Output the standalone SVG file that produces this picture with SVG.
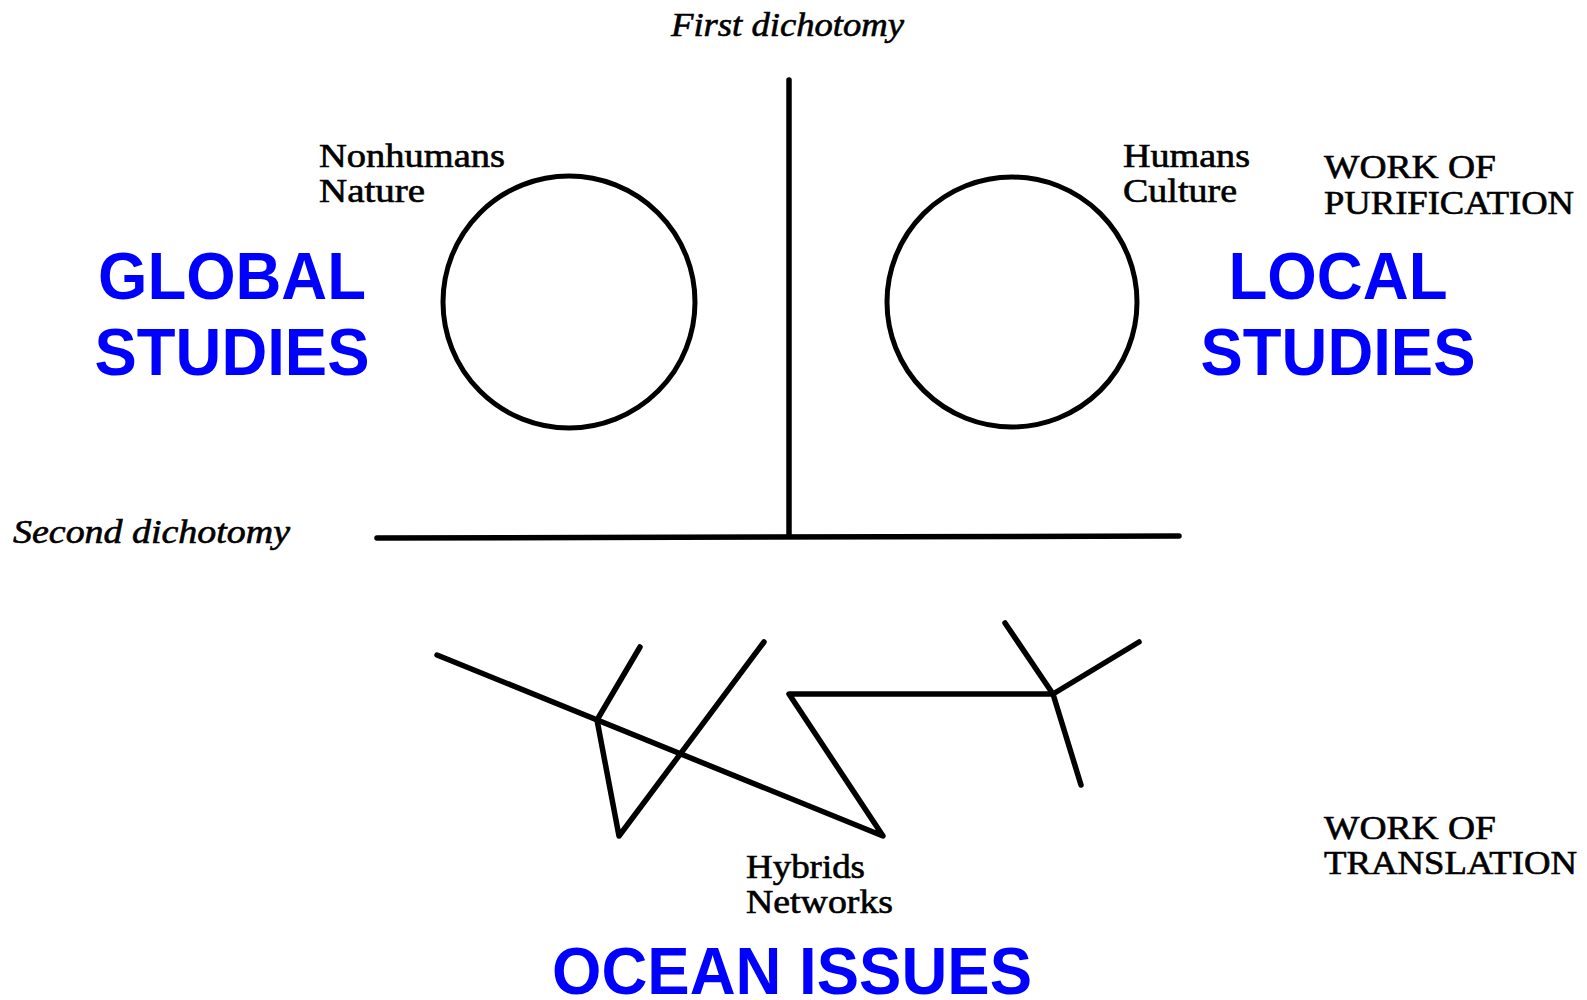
<svg xmlns="http://www.w3.org/2000/svg" width="1587" height="1000" viewBox="0 0 1587 1000">
<style>
.ln{stroke:#000;stroke-width:5.5;stroke-linecap:round;stroke-linejoin:round;fill:none}
.cir{stroke:#000;stroke-width:5;fill:none}
.lab{font-family:"Liberation Serif","Times New Roman",serif;font-size:33px;fill:#000;stroke:#000;stroke-width:0.6}
.it{font-family:"Liberation Serif","Times New Roman",serif;font-style:italic;font-size:33px;fill:#000;stroke:#000;stroke-width:0.6}
.cap{font-family:"Liberation Serif","Times New Roman",serif;font-size:33px;fill:#000;stroke:#000;stroke-width:0.6}
.blue{font-family:"Liberation Sans",Arial,sans-serif;font-weight:bold;font-size:66px;fill:#0000ff;text-anchor:middle}
</style>
<rect width="1587" height="1000" fill="#fff"/>
<g id="connectors">
<line class="ln" x1="789" y1="80" x2="789" y2="534"/>
<line class="ln" x1="377" y1="538" x2="1179" y2="536"/>
<path class="ln" d="M437,655 L883,836 L789,694 L1053,694"/>
<path class="ln" d="M640,647 L597,720 L619,836 L764,642"/>
<path class="ln" d="M1005,623 L1053,694 L1139,642 M1053,694 L1081,785"/>
</g>
<g id="first-dichotomy"><text class="it" x="671" y="36" textLength="233" lengthAdjust="spacingAndGlyphs">First dichotomy</text></g>
<g id="second-dichotomy"><text class="it" x="13" y="543" textLength="277" lengthAdjust="spacingAndGlyphs">Second dichotomy</text></g>
<g id="nature">
<circle class="cir" cx="569" cy="302" r="126"/>
<text class="lab" x="319" y="167" textLength="186" lengthAdjust="spacingAndGlyphs">Nonhumans</text>
<text class="lab" x="319" y="202" textLength="106" lengthAdjust="spacingAndGlyphs">Nature</text>
</g>
<g id="culture">
<circle class="cir" cx="1012" cy="302" r="125"/>
<text class="lab" x="1123" y="167" textLength="127" lengthAdjust="spacingAndGlyphs">Humans</text>
<text class="lab" x="1123" y="202" textLength="114" lengthAdjust="spacingAndGlyphs">Culture</text>
</g>
<g id="purification">
<text class="cap" x="1324" y="178" textLength="172" lengthAdjust="spacingAndGlyphs">WORK OF</text>
<text class="cap" x="1324" y="214" textLength="250" lengthAdjust="spacingAndGlyphs">PURIFICATION</text>
</g>
<g id="hybrids">
<text class="lab" x="746" y="878" textLength="119" lengthAdjust="spacingAndGlyphs">Hybrids</text>
<text class="lab" x="746" y="913" textLength="147" lengthAdjust="spacingAndGlyphs">Networks</text>
</g>
<g id="translation">
<text class="cap" x="1324" y="839" textLength="172" lengthAdjust="spacingAndGlyphs">WORK OF</text>
<text class="cap" x="1324" y="874" textLength="253" lengthAdjust="spacingAndGlyphs">TRANSLATION</text>
</g>
<g id="global">
<text class="blue" x="232" y="299" textLength="268" lengthAdjust="spacingAndGlyphs">GLOBAL</text>
<text class="blue" x="232" y="375" textLength="275" lengthAdjust="spacingAndGlyphs">STUDIES</text>
</g>
<g id="local">
<text class="blue" x="1338" y="299" textLength="219" lengthAdjust="spacingAndGlyphs">LOCAL</text>
<text class="blue" x="1338" y="375" textLength="275" lengthAdjust="spacingAndGlyphs">STUDIES</text>
</g>
<g id="ocean">
<text class="blue" x="792" y="994" textLength="480" lengthAdjust="spacingAndGlyphs">OCEAN ISSUES</text>
</g>
</svg>
